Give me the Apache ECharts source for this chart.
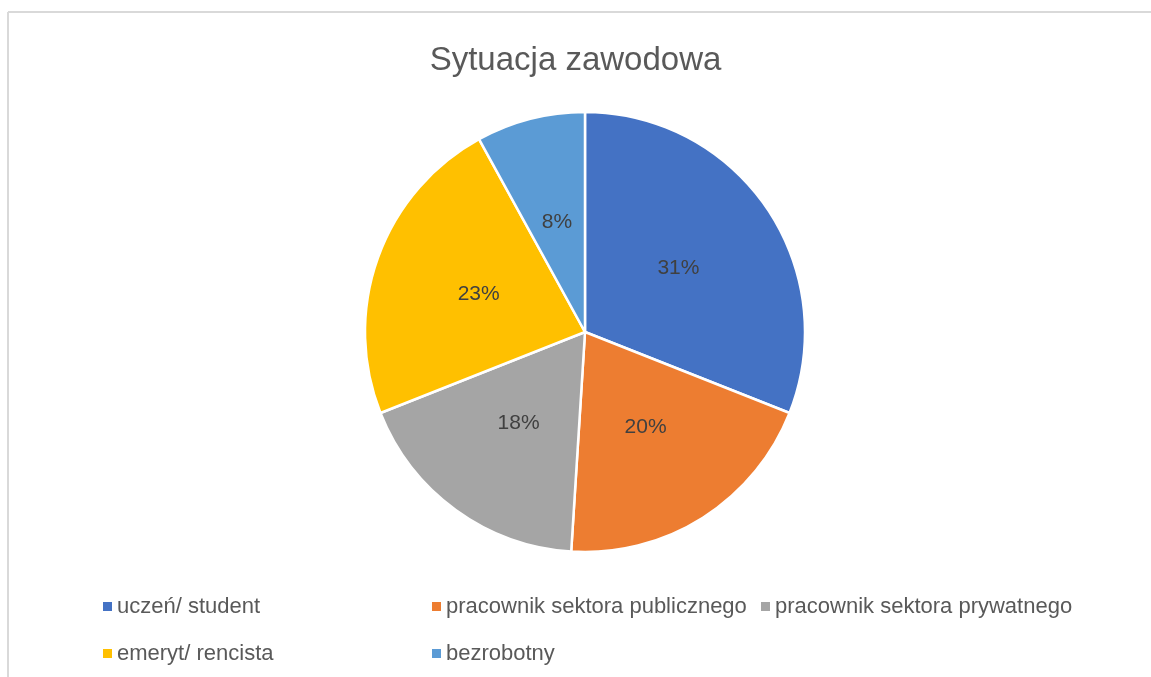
<!DOCTYPE html>
<html><head><meta charset="utf-8">
<script src="https://cdn.jsdelivr.net/npm/echarts@6/dist/echarts.min.js"></script>
<style>html,body{margin:0;padding:0;background:#fff}#c{width:1151px;height:677px}</style>
</head><body><div id="c"></div>
<script>
const title = 'Sytuacja zawodowa';
const categories = ['uczeń/ student', 'pracownik sektora publicznego', 'pracownik sektora prywatnego', 'emeryt/ rencista', 'bezrobotny'];
const values = [31, 20, 18, 23, 8];
const colors = ['#4472C4', '#ED7D31', '#A5A5A5', '#FFC000', '#5B9BD5'];

const chart = echarts.init(document.getElementById('c'), null, {renderer: 'canvas'});
const font = '"Liberation Sans", Arial, sans-serif';
chart.setOption({
  animation: false,
  color: colors,
  title: {
    text: title, left: 'center', top: 39,
    textStyle: {fontFamily: font, fontSize: 33, fontWeight: 'normal', color: '#595959'}
  },
  graphic: [
    {type: 'line', shape: {x1: 8, y1: 12, x2: 1151, y2: 12}, style: {stroke: '#d9d9d9', lineWidth: 2}},
    {type: 'line', shape: {x1: 8, y1: 12, x2: 8, y2: 677}, style: {stroke: '#d9d9d9', lineWidth: 2}}
  ],
  legend: {
    left: 98, top: 582, right: 5,
    itemWidth: 9, itemHeight: 9, itemGap: 8,
    icon: 'rect',
    orient: 'horizontal',
    textStyle: {fontFamily: font, fontSize: 22, color: '#595959', width: 307, overflow: 'none', lineHeight: 39},
    itemStyle: {borderWidth: 0},
    data: categories
  },
  series: [{
    type: 'pie',
    center: [585, 332],
    radius: [0, 220],
    startAngle: 90,
    clockwise: true,
    data: categories.map((n, i) => ({name: n, value: values[i]})),
    itemStyle: {borderColor: '#fff', borderWidth: 2.5},
    label: {
      show: true, position: 'inside',
      formatter: p => p.value + '%',
      fontFamily: font, fontSize: 21, color: '#404040'
    },
    labelLine: {show: false},
    emphasis: {disabled: true}
  }]
});
</script></body></html>
